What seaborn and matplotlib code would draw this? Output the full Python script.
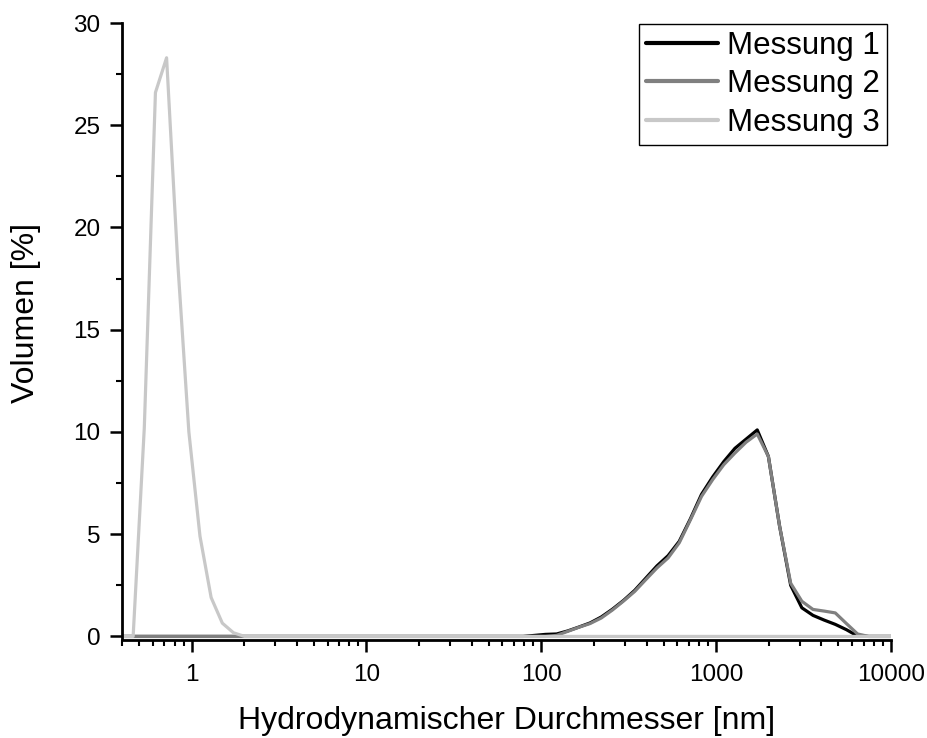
import matplotlib
matplotlib.use("Agg")
import matplotlib.pyplot as plt
import matplotlib.ticker as mticker
import seaborn as sns
import pandas as pd
import numpy as np

# Zetasizer size classes (nm)
size_nm = [0.4, 0.4632, 0.5365, 0.6213, 0.7195, 0.8332, 0.9649, 1.117, 1.294, 1.499,
           1.736, 2.010, 2.328, 2.696, 3.122, 3.615, 4.187, 4.849, 5.615, 6.503,
           7.531, 8.721, 10.10, 11.70, 13.54, 15.69, 18.17, 21.04, 24.36, 28.21,
           32.67, 37.84, 43.82, 50.75, 58.77, 68.06, 78.82, 91.28, 105.7, 122.4,
           141.8, 164.2, 190.1, 220.2, 255.0, 295.3, 342.0, 396.1, 458.7, 531.2,
           615.1, 712.4, 825.0, 955.4, 1106, 1281, 1484, 1718, 1990, 2305,
           2669, 3091, 3580, 4145, 4801, 5560, 6439, 7456, 8635, 10000]

messung_1 = [0]*37 + [0.05, 0.1, 0.12, 0.27, 0.46, 0.66, 0.95, 1.33, 1.76, 2.25,
                      2.85, 3.45, 3.95, 4.65, 5.75, 6.95, 7.8, 8.55, 9.2, 9.65,
                      10.1, 8.8, 5.4, 2.5, 1.4, 1.03, 0.8, 0.59, 0.33, 0.02,
                      0, 0, 0]
messung_2 = [0]*37 + [0, 0, 0.05, 0.25, 0.45, 0.63, 0.9, 1.29, 1.73, 2.2,
                      2.78, 3.35, 3.84, 4.58, 5.7, 6.85, 7.67, 8.4, 8.97, 9.5,
                      9.9, 8.8, 5.4, 2.6, 1.72, 1.32, 1.24, 1.15, 0.63, 0.12,
                      0, 0, 0]
messung_3 = [0, 0, 10.2, 26.6, 28.3, 18.3, 10.0, 4.9, 1.9, 0.65, 0.18, 0] + [0]*58

labels = ["Messung 1", "Messung 2", "Messung 3"]
colors = ["#000000", "#808080", "#c8c8c8"]

df = pd.concat([
    pd.DataFrame({"size": size_nm, "vol": v, "Messung": lab})
    for v, lab in zip([messung_1, messung_2, messung_3], labels)
], ignore_index=True)

sns.set_style("ticks")
plt.rcParams["font.family"] = ["Liberation Sans", "DejaVu Sans"]
plt.rcParams["text.color"] = "black"
plt.rcParams["axes.labelcolor"] = "black"
plt.rcParams["xtick.color"] = "black"
plt.rcParams["ytick.color"] = "black"
plt.rcParams["xtick.labelcolor"] = "black"
plt.rcParams["ytick.labelcolor"] = "black"

W, H = 928, 738
fig = plt.figure(figsize=(W/100, H/100), dpi=100)
ax = fig.add_axes([122/W, 1-639.5/H, (891-122)/W, (639.5-23)/H])

sns.lineplot(data=df, x="size", y="vol", hue="Messung", hue_order=labels,
             palette=colors, linewidth=2.3, ax=ax, sort=False, estimator=None)

ax.set_xscale("log")
ax.set_xlim(0.4, 10000)
ax.set_ylim(-0.15, 30)

ax.xaxis.set_major_locator(mticker.FixedLocator([1, 10, 100, 1000, 10000]))
ax.xaxis.set_major_formatter(mticker.FixedFormatter(["1", "10", "100", "1000", "10000"]))
ax.xaxis.set_minor_locator(mticker.LogLocator(base=10, subs=np.arange(2, 10), numticks=20))
ax.xaxis.set_minor_formatter(mticker.NullFormatter())
ax.yaxis.set_major_locator(mticker.MultipleLocator(5))
ax.yaxis.set_minor_locator(mticker.MultipleLocator(2.5))

for s in ["top", "right"]:
    ax.spines[s].set_visible(False)
for s in ["left", "bottom"]:
    ax.spines[s].set_linewidth(2)
    ax.spines[s].set_color("black")

ax.tick_params(which="major", length=8.5, width=1.8, labelsize=17.5, pad=7,
               color="black", labelcolor="black")
ax.tick_params(which="minor", length=4.3, width=1.5, color="black")
ax.tick_params(axis="x", which="major", pad=9)

ax.set_xlabel("Hydrodynamischer Durchmesser [nm]", fontsize=23, color="black")
ax.set_ylabel("Volumen [%]", fontsize=23, color="black")
ax.xaxis.set_label_coords(0.5, -0.108)
ax.yaxis.set_label_coords(-0.105, 0.53)

leg = ax.legend(loc="upper right", bbox_to_anchor=(887/W, 1-24/H),
                bbox_transform=fig.transFigure, borderaxespad=0,
                fontsize=22.5, frameon=True, fancybox=False, framealpha=1,
                edgecolor="black", handlelength=2.3, handletextpad=0.3,
                labelspacing=0.27, borderpad=0.22, title=None)
leg.get_frame().set_linewidth(1)
for t in leg.get_texts():
    t.set_color("black")
for line in leg.get_lines():
    line.set_linewidth(3)

fig.savefig("out.png", dpi=100)
